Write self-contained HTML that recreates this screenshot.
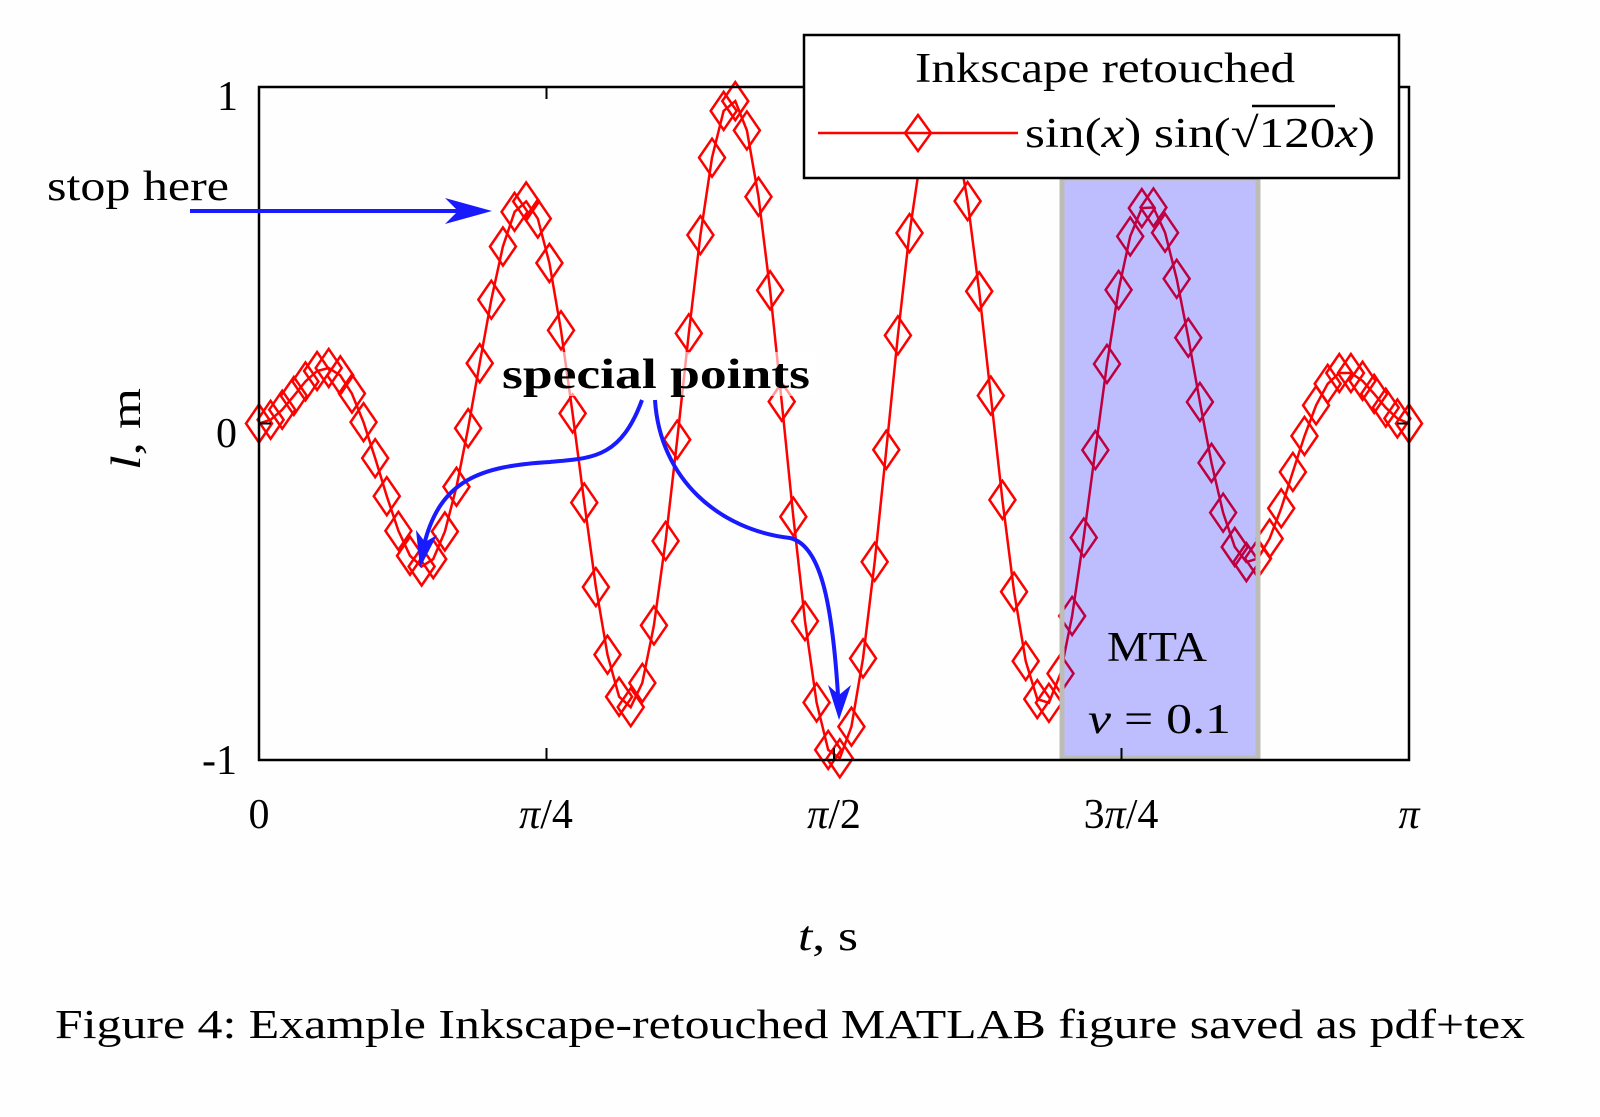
<!DOCTYPE html>
<html><head><meta charset="utf-8"><style>
html,body{margin:0;padding:0;background:#fefefe;}
svg{display:block;font-family:"Liberation Serif",serif;}
</style></head><body>
<svg id="chart" width="1600" height="1117" viewBox="0 0 1600 1117" xmlns="http://www.w3.org/2000/svg">
<rect x="0" y="0" width="1600" height="1117" fill="#fefefe"/>
<g id="series"></g>
<rect x="1062" y="178" width="196" height="580" fill="#0000ff" fill-opacity="0.25" stroke="#bdbdb5" stroke-width="5"/>
<rect x="495" y="352" width="320" height="44" fill="#ffffff" fill-opacity="0.6"/>
<rect x="259" y="87" width="1150" height="673" fill="none" stroke="#000" stroke-width="2.5"/>
<g id="ticks"></g>
<g font-size="42" fill="#000">
<text x="238" y="110" text-anchor="end">1</text>
<text x="237" y="447" text-anchor="end">0</text>
<text x="237" y="774" text-anchor="end">-1</text>
<text x="259" y="828" text-anchor="middle">0</text>
<text x="546" y="828" text-anchor="middle"><tspan font-style="italic">π</tspan>/4</text>
<text x="834" y="828" text-anchor="middle"><tspan font-style="italic">π</tspan>/2</text>
<text x="1121" y="828" text-anchor="middle">3<tspan font-style="italic">π</tspan>/4</text>
<text x="1409" y="828" text-anchor="middle"><tspan font-style="italic">π</tspan></text>
<text x="798" y="950" textLength="60" lengthAdjust="spacingAndGlyphs"><tspan font-style="italic">t</tspan>, s</text>
<text transform="translate(140,470) rotate(-90)" textLength="82" lengthAdjust="spacingAndGlyphs"><tspan font-style="italic">l</tspan>, m</text>
<text x="55" y="1038" textLength="1470" lengthAdjust="spacingAndGlyphs" font-size="41">Figure 4:  Example Inkscape-retouched MATLAB figure saved as pdf+tex</text>
<text x="47" y="200" textLength="182" lengthAdjust="spacingAndGlyphs">stop here</text>
<text x="502" y="388" textLength="308" lengthAdjust="spacingAndGlyphs" font-weight="bold">special points</text>
<text x="1107" y="661" textLength="100" lengthAdjust="spacingAndGlyphs">MTA</text>
<text x="1088" y="733" textLength="143" lengthAdjust="spacingAndGlyphs"><tspan font-style="italic">ν</tspan> = 0.1</text>
</g>
<g stroke="#1a1aff" stroke-width="4" fill="none">
<path d="M190,211 L465,211"/>
<path d="M642,400 C620,460 590,458 550,462 C480,466 440,480 424,545"/>
<path d="M655,400 C660,480 720,530 790,538 C820,545 832,600 838,695"/>
</g>
<g fill="#1a1aff">
<path d="M492,211 L445,198 L458,211 L445,224 Z"/>
<path d="M420,568 L416,530 L425,542 L437,535 Z"/>
<path d="M839,720 L828,685 L839,695 L851,685 Z"/>
</g>
<g>
<rect x="804" y="35" width="595" height="143" fill="#fff" stroke="#000" stroke-width="2.5"/>
<text x="915" y="82" textLength="380" lengthAdjust="spacingAndGlyphs" font-size="42">Inkscape retouched</text>
<line x1="818" y1="133" x2="1018" y2="133" stroke="#ff0000" stroke-width="2.5"/>
<path d="M918,115 L931,133 L918,151 L905,133 Z" fill="none" stroke="#ff0000" stroke-width="2.5"/>
<text x="1025" y="147" font-size="42" textLength="350" lengthAdjust="spacingAndGlyphs">sin(<tspan font-style="italic">x</tspan>) sin(√120<tspan font-style="italic">x</tspan>)</text>
<line x1="1252" y1="106" x2="1335" y2="106" stroke="#000" stroke-width="2.5"/>
</g>
</svg>
<script>
const yValues = [0,0.011,0.041,0.082,0.125,0.156,0.165,0.143,0.089,0.004,-0.103,-0.216,-0.319,-0.393,-0.425,-0.403,-0.321,-0.188,-0.014,0.179,0.368,0.526,0.629,0.660,0.609,0.477,0.277,0.030,-0.235,-0.486,-0.687,-0.812,-0.843,-0.771,-0.600,-0.349,-0.048,0.268,0.560,0.790,0.929,0.958,0.871,0.674,0.396,0.065,-0.277,-0.587,-0.829,-0.970,-0.995,-0.901,-0.698,-0.411,-0.078,0.262,0.566,0.799,0.932,0.951,0.857,0.661,0.393,0.083,-0.227,-0.500,-0.706,-0.819,-0.830,-0.743,-0.572,-0.339,-0.079,0.177,0.397,0.556,0.640,0.642,0.567,0.430,0.255,0.064,-0.117,-0.265,-0.367,-0.412,-0.401,-0.342,-0.252,-0.144,-0.037,0.054,0.118,0.150,0.150,0.127,0.088,0.047,0.015,0];
const xMax = Math.PI;
const xTickValues = [0, Math.PI/4, Math.PI/2, 3*Math.PI/4, Math.PI];
const yTickValues = [-1, 0, 1];
const NS = 'http://www.w3.org/2000/svg';
function sx(v){ return 259 + v / xMax * 1150; }
function sy(v){ return 423.5 - v * 336.5; }
const g = document.getElementById('series');
const n = yValues.length;
let d = '';
yValues.forEach((v,i)=>{ const x = sx(i * xMax / (n-1)); d += (i?'L':'M') + x.toFixed(1) + ',' + sy(v).toFixed(1); });
const line = document.createElementNS(NS,'path');
line.setAttribute('d', d);
line.setAttribute('fill','none');
line.setAttribute('stroke','#ff0000');
line.setAttribute('stroke-width','2.5');


g.appendChild(line);
yValues.forEach((v,i)=>{
  const x = sx(i * xMax / (n-1)), y = sy(v);
  const m = document.createElementNS(NS,'path');
  m.setAttribute('d', `M${x},${y-19} L${x+13},${y} L${x},${y+19} L${x-13},${y} Z`);
  m.setAttribute('fill','none');
  m.setAttribute('stroke','#ff0000');
  m.setAttribute('stroke-width','2.5');
  
  
  g.appendChild(m);
});
const tg = document.getElementById('ticks');
xTickValues.forEach(v=>{
  [[760,748],[87,99]].forEach(([a,b])=>{
    const t = document.createElementNS(NS,'line');
    t.setAttribute('x1', sx(v)); t.setAttribute('x2', sx(v));
    t.setAttribute('y1', a); t.setAttribute('y2', b);
    t.setAttribute('stroke','#000'); t.setAttribute('stroke-width','2');
    
    
    tg.appendChild(t);
  });
});
yTickValues.forEach(v=>{
  [[259,271],[1409,1397]].forEach(([a,b])=>{
    const t = document.createElementNS(NS,'line');
    t.setAttribute('y1', sy(v)); t.setAttribute('y2', sy(v));
    t.setAttribute('x1', a); t.setAttribute('x2', b);
    t.setAttribute('stroke','#000'); t.setAttribute('stroke-width','2');
    
    
    tg.appendChild(t);
  });
});
</script>
</body></html>
